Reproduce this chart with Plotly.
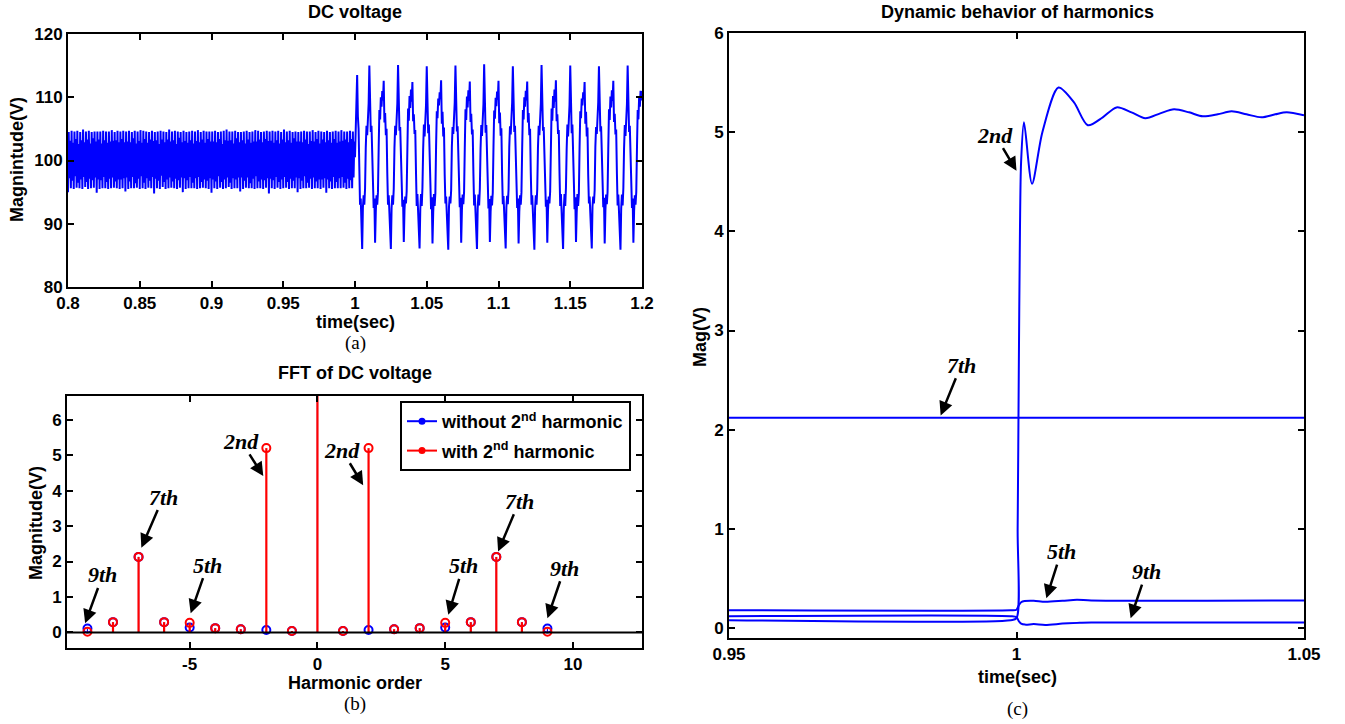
import numpy as np
import plotly.graph_objects as go

# ---------------- (a) DC voltage samples ----------------
T_PRE_START, T_PRE_STEP = 0.8, 0.0005
DC_PRE = [
    95.0,104.5,97.2,103.1,95.6,104.7,96.8,102.8,95.5,104.6,97.5,103.4,95.7,104.7,96.5,102.6,95.6,104.5,97.0,103.2,95.5,104.9,97.4,102.9,95.8,104.6,96.6,103.3,95.5,104.7,97.1,102.7,95.6,104.5,96.9,103.5,95.7,104.6,97.3,103.0,
    94.9,104.6,97.0,103.3,95.5,104.6,96.9,102.7,95.6,104.7,97.4,103.2,95.6,104.6,96.6,102.8,95.5,104.6,97.1,103.0,95.6,104.8,97.3,103.1,95.7,104.5,96.7,103.2,95.6,104.7,97.0,102.9,95.5,104.6,97.0,103.4,95.6,104.7,97.2,102.9,
    95.1,104.6,97.3,103.0,95.5,104.7,96.7,102.9,95.6,104.5,97.4,103.5,95.6,104.7,96.4,102.7,95.7,104.6,97.1,103.1,95.5,104.8,97.5,102.8,95.6,104.7,96.5,103.4,95.5,104.6,97.2,102.8,95.7,104.5,96.8,103.3,95.6,104.7,97.4,103.1,
    94.8,104.5,97.1,103.2,95.6,104.6,96.8,102.6,95.5,104.7,97.6,103.3,95.8,104.6,96.6,102.9,95.5,104.5,97.0,103.3,95.6,104.9,97.3,103.0,95.7,104.6,96.7,103.2,95.6,104.7,97.1,102.6,95.5,104.6,96.9,103.6,95.7,104.5,97.3,102.9,
    95.0,104.7,97.2,103.1,95.5,104.5,96.9,102.8,95.6,104.6,97.4,103.2,95.6,104.7,96.5,102.7,95.6,104.6,97.2,103.1,95.5,104.8,97.4,102.9,95.6,104.5,96.6,103.3,95.7,104.7,97.0,102.8,95.6,104.6,96.8,103.4,95.5,104.6,97.2,103.0,
    94.9,104.6,97.0,103.0,95.6,104.7,96.7,102.9,95.5,104.5,97.5,103.4,95.7,104.6,96.6,102.6,95.5,104.7,97.0,103.2,95.6,104.9,97.3,103.1,95.8,104.6,96.5,103.2,95.5,104.6,97.2,102.7,95.6,104.7,97.0,103.5,95.6,104.5,97.3,102.9,
    95.1,104.5,97.3,103.2,95.5,104.6,96.8,102.7,95.7,104.7,97.3,103.3,95.6,104.5,96.4,102.8,95.6,104.6,97.1,103.0,95.5,104.8,97.5,103.0,95.6,104.7,96.7,103.3,95.6,104.5,97.0,102.9,95.5,104.6,96.9,103.4,95.7,104.7,97.2,103.1,
    94.8,104.6,97.1,103.1,95.6,104.7,96.9,102.8,95.5,104.6,97.4,103.2,95.7,104.7,96.6,102.7,95.5,104.5,97.0,103.3,95.6,104.9,97.4,102.9,95.7,104.6,96.6,103.2,95.5,104.7,97.1,102.8,95.6,104.5,96.8,103.5,95.6,104.6,97.3,103.0,
    95.0,104.5,97.2,103.0,95.5,104.6,96.8,102.9,95.6,104.7,97.5,103.3,95.6,104.6,96.5,102.6,95.7,104.6,97.1,103.1,95.5,104.8,97.3,103.0,95.6,104.5,96.7,103.4,95.6,104.7,97.0,102.7,95.5,104.6,97.0,103.3,95.7,104.5,97.2,102.9,
    94.9,104.7,97.0,103.2,95.6,104.5,96.7,102.8,95.5,104.6,97.4,103.4,95.6,104.7,96.6,102.8,95.6,104.6,97.2,103.0,95.6,104.8,97.4,103.1,95.7,104.6,96.5,103.3,95.5,104.6,97.1,102.9,95.6,104.7,96.9,103.4,95.6,104.6,97.3,103.0,
]
T_POST_START, T_POST_STEP = 1.0, 0.0005
DC_POST = [
    100.5,106.0,111.0,113.5,107.0,105.0,99.0,93.0,94.0,89.0,86.0,92.5,94.5,93.0,95.5,102.0,105.5,104.0,106.5,109.0,
    115.0,106.0,104.5,105.5,101.0,94.0,92.5,94.0,87.0,92.0,94.5,93.0,95.0,102.0,108.0,106.5,110.0,108.5,111.0,109.5,112.6,106.0,107.5,104.0,105.0,98.0,93.0,94.5,92.0,89.0,86.0,92.5,94.5,93.0,95.5,102.0,105.5,104.0,106.5,109.0,
    115.1,105.8,104.7,105.3,101.2,93.8,92.7,93.8,87.1,92.2,94.3,93.2,95.1,101.8,108.2,106.3,110.2,108.3,111.2,109.3,112.4,106.2,107.3,104.2,104.8,98.2,92.8,94.7,91.8,89.2,86.1,92.3,94.7,92.8,95.7,101.8,105.7,103.8,106.7,108.8,
    114.9,106.2,104.3,105.7,100.8,94.2,92.3,94.2,86.9,91.8,94.7,92.8,94.8,102.2,107.8,106.7,109.8,108.7,110.8,109.7,112.7,105.8,107.7,103.8,105.2,97.8,93.2,94.3,92.2,88.8,85.9,92.7,94.3,93.2,95.3,102.2,105.3,104.2,106.3,109.2,
    115.0,106.0,104.6,105.4,101.1,94.1,92.6,94.1,87.0,92.1,94.6,93.1,95.0,101.9,108.1,106.4,110.1,108.4,111.1,109.4,112.5,106.1,107.4,104.1,104.9,98.1,92.9,94.6,91.9,89.1,86.0,92.4,94.6,92.9,95.6,101.9,105.6,103.9,106.6,108.9,
    115.2,105.9,104.4,105.6,100.9,93.9,92.4,93.9,87.1,91.9,94.4,92.9,94.9,102.1,107.9,106.6,109.9,108.6,110.9,109.6,112.6,105.9,107.6,103.9,105.1,97.9,93.1,94.4,92.1,88.9,86.1,92.6,94.4,93.1,95.4,102.1,105.4,104.1,106.4,109.1,
    114.9,106.1,104.5,105.5,101.0,94.0,92.5,94.0,86.9,92.0,94.5,93.0,95.0,102.0,108.0,106.5,110.0,108.5,111.0,109.5,112.5,106.0,107.5,104.0,105.0,98.0,93.0,94.5,92.0,89.0,85.9,92.5,94.5,93.0,95.5,102.0,105.5,104.0,106.5,109.0,
    115.1,105.8,104.7,105.3,101.2,93.8,92.7,93.8,87.0,92.2,94.3,93.2,95.1,101.8,108.2,106.3,110.2,108.3,111.2,109.3,112.7,106.2,107.3,104.2,104.8,98.2,92.8,94.7,91.8,89.2,86.0,92.3,94.7,92.8,95.7,101.8,105.7,103.8,106.7,108.8,
    115.0,106.2,104.3,105.7,100.8,94.2,92.3,94.2,87.1,91.8,94.7,92.8,94.8,102.2,107.8,106.7,109.8,108.7,110.8,109.7,112.4,105.8,107.7,103.8,105.2,97.8,93.2,94.3,92.2,88.8,86.1,92.7,94.3,93.2,95.3,102.2,105.3,104.2,106.3,109.2,
    114.9,106.0,104.6,105.4,101.1,94.1,92.6,94.1,86.9,92.1,94.6,93.1,95.0,101.9,108.1,106.4,110.1,108.4,111.1,109.4,112.6,106.1,107.4,104.1,104.9,98.1,92.9,94.6,91.9,89.1,85.9,92.4,94.6,92.9,95.6,101.9,105.6,103.9,106.6,108.9,
    115.0,106.0,104.5,105.5,101.0,94.0,92.5,94.0,87.0,92.0,94.5,93.0,95.0,102.0,108.0,106.5,110.0,108.5,111.0,109.5,111.0,
]

# ---------------- (b) FFT of DC voltage ----------------
HARM_ORDER = [-9, -8, -7, -6, -5, -4, -3, -2, -1, 0, 1, 2, 3, 4, 5, 6, 7, 8, 9]
MAG_WITHOUT = [0.11, 0.29, 2.13, 0.29, 0.14, 0.12, 0.09, 0.07, 0.04, 100.0, 0.04, 0.07, 0.09, 0.12, 0.14, 0.29, 2.13, 0.29, 0.11]
MAG_WITH    = [0.02, 0.29, 2.13, 0.29, 0.27, 0.12, 0.09, 5.20, 0.04, 100.0, 0.04, 5.20, 0.09, 0.12, 0.27, 0.29, 2.13, 0.29, 0.02]
LEG_WITHOUT = "<b>without 2<sup>nd</sup> harmonic</b>"
LEG_WITH = "<b>with 2<sup>nd</sup> harmonic</b>"

# labels: (text, text_x, text_y, arrow_head_x, arrow_head_y)
FFT_LABELS = [
    ("9th", -8.40, 1.62, -9.09, 0.26),
    ("7th", -6.03, 3.82, -6.89, 2.39),
    ("5th", -4.30, 1.90, -4.96, 0.54),
    ("2nd", -2.98, 5.39, -2.12, 4.41),
    ("2nd", 0.96, 5.14, 1.79, 4.15),
    ("7th", 7.90, 3.70, 7.07, 2.28),
    ("5th", 5.70, 1.88, 5.12, 0.50),
    ("9th", 9.67, 1.81, 9.00, 0.40),
]

# ---------------- (c) Dynamic behavior of harmonics ----------------
T_2ND = [0.95, 0.999, 1.0, 1.0002, 1.0004, 1.0006, 1.0008, 1.0013, 1.0027, 1.0045, 1.0073, 1.0100, 1.0124,
         1.0150, 1.0174, 1.0200, 1.0224, 1.0250, 1.0274, 1.0300, 1.0324, 1.0350, 1.0374, 1.0400, 1.0426,
         1.0450, 1.0470, 1.05]
M_2ND = [0.08, 0.08, 0.10, 1.0, 2.6, 4.0, 4.7, 5.1, 4.48, 5.0, 5.45, 5.3, 5.07,
         5.15, 5.25, 5.2, 5.14, 5.19, 5.23, 5.2, 5.16, 5.18, 5.21, 5.18, 5.15,
         5.18, 5.2, 5.17]
T_5TH = [0.95, 0.999, 1.0, 1.0004, 1.0008, 1.0014, 1.003, 1.005, 1.008, 1.0105, 1.013, 1.05]
M_5TH = [0.18, 0.18, 0.185, 0.23, 0.26, 0.272, 0.275, 0.265, 0.275, 0.285, 0.278, 0.278]
T_7TH = [0.95, 1.05]
M_7TH = [2.12, 2.12]
T_9TH = [0.95, 0.999, 1.0, 1.0004, 1.0008, 1.0015, 1.003, 1.005, 1.008, 1.011, 1.013, 1.05]
M_9TH = [0.12, 0.12, 0.11, 0.07, 0.045, 0.035, 0.04, 0.032, 0.045, 0.055, 0.057, 0.057]

DYN_LABELS = [
    ("2nd", 0.99630, 4.97, 1.0000, 4.61),
    ("7th", 0.99037, 2.65, 0.98681, 2.144),
    ("5th", 1.00778, 0.77, 1.00519, 0.30),
    ("9th", 1.02259, 0.57, 1.01985, 0.10),
]

BLUE = "#0000FF"
RED = "#FF0000"
W, H = 1345, 724
SANS = "Liberation Sans"
SERIF = "Liberation Serif"

fig = go.Figure()

# (a)
t_pre = T_PRE_START + T_PRE_STEP * np.arange(len(DC_PRE))
t_post = T_POST_START + T_POST_STEP * np.arange(len(DC_POST))
fig.add_trace(go.Scatter(x=np.concatenate([t_pre, t_post]), y=DC_PRE + DC_POST, mode="lines",
                         line=dict(color=BLUE, width=2), showlegend=False, xaxis="x", yaxis="y"))

# (b) stems
def stems(hs, vs):
    xs, ys = [], []
    for h, v in zip(hs, vs):
        xs += [h, h, None]
        ys += [0, v, None]
    return xs, ys

for vals, col, lw in [(MAG_WITHOUT, BLUE, 1.2), (MAG_WITH, RED, 2.2)]:
    sx, sy = stems(HARM_ORDER, vals)
    fig.add_trace(go.Scatter(x=sx, y=sy, mode="lines", line=dict(color=col, width=lw),
                             showlegend=False, xaxis="x2", yaxis="y2", hoverinfo="skip"))
    fig.add_trace(go.Scatter(x=HARM_ORDER, y=vals, mode="markers",
                             marker=dict(symbol="circle-open", size=8, color=col, line=dict(width=2, color=col)),
                             showlegend=False, xaxis="x2", yaxis="y2"))
for name, col, grp in [(LEG_WITHOUT, BLUE, "a"), (LEG_WITH, RED, "b")]:
    fig.add_trace(go.Scatter(x=[None], y=[None], mode="lines+markers", name=name, legendgroup=grp,
                             line=dict(color=col, width=2), marker=dict(symbol="circle", size=7, color=col),
                             xaxis="x2", yaxis="y2"))

# (c)
for tt, mm in [(T_7TH, M_7TH), (T_5TH, M_5TH), (T_9TH, M_9TH), (T_2ND, M_2ND)]:
    fig.add_trace(go.Scatter(x=tt, y=mm, mode="lines", line=dict(color=BLUE, width=2, shape="spline", smoothing=0.8),
                             showlegend=False, xaxis="x3", yaxis="y3"))

tickfont = dict(family=SANS, size=17, color="black", weight="bold")
ax_common = dict(showline=True, linecolor="black", linewidth=2, mirror="ticks", ticks="inside",
                 ticklen=6, tickwidth=2, tickcolor="black", showgrid=False, zeroline=False,
                 tickfont=tickfont, fixedrange=True, automargin=False)

def px(xp):
    return xp / W

def py(yp):
    return 1 - yp / H

fig.update_layout(
    width=W, height=H, margin=dict(l=0, r=0, t=0, b=0, pad=0),
    paper_bgcolor="white", plot_bgcolor="white",
    xaxis=dict(ax_common, domain=[px(68), px(642)], range=[0.8, 1.2], anchor="y",
               tickvals=[0.8, 0.85, 0.9, 0.95, 1.0, 1.05, 1.1, 1.15, 1.2],
               ticktext=["0.8", "0.85", "0.9", "0.95", "1", "1.05", "1.1", "1.15", "1.2"]),
    yaxis=dict(ax_common, domain=[py(287), py(34)], range=[80, 120], anchor="x",
               tickvals=[80, 90, 100, 110, 120]),
    xaxis2=dict(ax_common, domain=[px(67), px(642)], range=[-9.8, 12.7], anchor="y2",
                tickvals=[-5, 0, 5, 10], ticktext=["-5", "0", "5", "10"]),
    yaxis2=dict(ax_common, domain=[py(648), py(396)], range=[-0.44, 6.67], anchor="x2",
                tickvals=[0, 1, 2, 3, 4, 5, 6]),
    xaxis3=dict(ax_common, domain=[px(729), px(1304)], range=[0.95, 1.05], anchor="y3",
                tickvals=[0.95, 1.0, 1.05], ticktext=["0.95", "1", "1.05"]),
    yaxis3=dict(ax_common, domain=[py(638), py(33)], range=[-0.1, 6], anchor="x3",
                tickvals=[0, 1, 2, 3, 4, 5, 6]),
    legend=dict(x=px(400), y=py(401), xanchor="left", yanchor="top", bgcolor="white",
                bordercolor="black", borderwidth=2, font=dict(family=SANS, size=18, color="black"),
                tracegroupgap=3, itemwidth=30),
    showlegend=True,
)

# baseline of stems
fig.add_shape(type="line", xref="x2 domain", yref="y2", x0=0, x1=1, y0=0, y1=0,
              line=dict(color="black", width=2))

ann = []

def txt(s, x, y, size=18, family=SANS, angle=0, bold=True):
    ann.append(dict(text=("<b>%s</b>" % s) if bold else s, x=px(x), y=py(y), xref="paper", yref="paper",
                    showarrow=False, xanchor="center", yanchor="middle", textangle=angle,
                    font=dict(family=family, size=size, color="black")))

txt("DC voltage", 355, 12)
txt("time(sec)", 355, 322)
txt("(a)", 355, 343, size=19, family=SERIF, bold=False)
txt("Magnintude(V)", 17, 160, angle=-90)
txt("FFT of DC voltage", 355, 373)
txt("Harmonic order", 355, 683)
txt("(b)", 355, 704, size=19, family=SERIF, bold=False)
txt("Magnitude(V)", 36, 523, angle=-90)
txt("Dynamic behavior of harmonics", 1017, 12)
txt("time(sec)", 1017, 677)
txt("(c)", 1017, 709, size=19, family=SERIF, bold=False)
txt("Mag(V)", 700, 337, angle=-90)

def harm_labels(labels, xr, yr):
    # text sits at the arrow tail; plotly draws the arrow from the text box edge to the head
    for s, tx, ty, hx, hy in labels:
        ann.append(dict(text="<b><i>%s</i></b>" % s, x=hx, y=hy, xref=xr, yref=yr,
                        ax=tx, ay=ty, axref=xr, ayref=yr,
                        showarrow=True, arrowhead=2, arrowsize=1.1, arrowwidth=2.5, arrowcolor="black",
                        standoff=0, startstandoff=0, borderpad=0,
                        font=dict(family=SERIF, size=22, color="black")))

harm_labels(FFT_LABELS, "x2", "y2")
harm_labels(DYN_LABELS, "x3", "y3")

fig.update_layout(annotations=ann)
fig.write_html("out.html")
